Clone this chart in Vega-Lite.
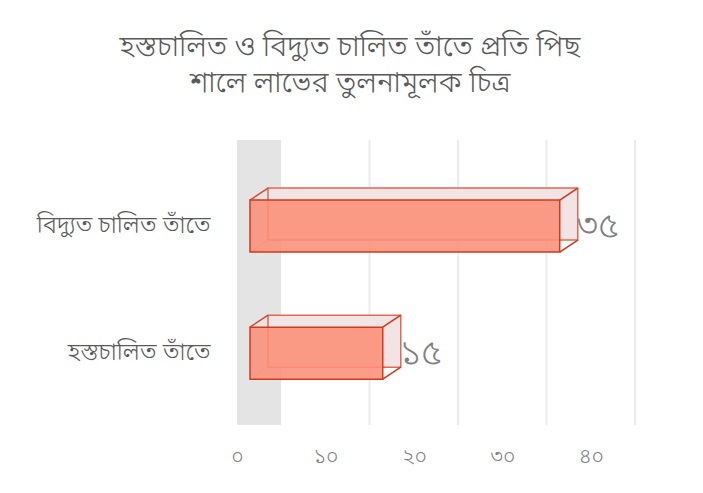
{
  "$schema": "https://vega.github.io/schema/vega-lite/v6.json",
  "autosize": "none",
  "width": 354,
  "height": 285,
  "padding": {"left": 250, "top": 140, "right": 99, "bottom": 68},
  "background": "white",
  "config": {"view": {"stroke": null}, "font": "Noto Sans Bengali, Noto Sans, sans-serif"},
  "title": {
    "text": ["হস্তচালিত ও বিদ্যুত চালিত তাঁতে প্রতি পিছ", "শালে লাভের তুলনামূলক চিত্র"],
    "fontSize": 29, "fontWeight": 300, "color": "#595959",
    "anchor": "middle", "dx": -77, "offset": 20, "lineHeight": 36
  },
  "datasets": {
    "main": [
      {"cat": "বিদ্যুত চালিত তাঁতে", "value": 35, "label": "৩৫"},
      {"cat": "হস্তচালিত তাঁতে", "value": 15, "label": "১৫"}
    ],
    "wall": [{"z": 0}],
    "grid": [{"g": 10}, {"g": 20}, {"g": 30}, {"g": 40}]
  },
  "layer": [
    {
      "data": {"name": "wall"},
      "mark": {"type": "rule", "color": "#e4e4e4", "strokeWidth": 44, "strokeCap": "butt", "xOffset": 9},
      "encoding": {
        "x": {"field": "z", "type": "quantitative", "scale": {"domain": [0, 40]},
          "axis": {"values": [0, 10, 20, 30, 40], "grid": false, "domain": false, "ticks": false, "title": null,
            "labelFlush": false, "labelPadding": 20, "labelOffset": -13, "labelFontSize": 21, "labelFontWeight": 300, "labelColor": "#808080",
            "labelExpr": "datum.value == 0 ? '০' : datum.value == 10 ? '১০' : datum.value == 20 ? '২০' : datum.value == 30 ? '৩০' : '৪০'"}}
      }
    },
    {
      "data": {"name": "grid"},
      "mark": {"type": "rule", "color": "#ebebeb", "strokeWidth": 2, "xOffset": 31},
      "encoding": {"x": {"field": "g", "type": "quantitative"}}
    },
    {
      "data": {"name": "main"},
      "layer": [
        {
          "mark": {"type": "bar", "size": 52, "xOffset": 18, "yOffset": -12, "fill": "#f2e4e4", "stroke": "#dd6a52", "strokeWidth": 1.5},
          "encoding": {
            "x": {"field": "value", "type": "quantitative"},
            "y": {"field": "cat", "type": "nominal", "sort": null,
              "scale": {"paddingInner": 0, "paddingOuter": 0.122, "align": 0.73},
              "axis": {"title": null, "domain": false, "ticks": false, "labelPadding": 40, "labelFontSize": 24, "labelFontWeight": 300, "labelColor": "#595959"}}
          }
        },
        {
          "mark": {"type": "rule", "stroke": "#d8482c", "strokeWidth": 1.5, "yOffset": -26, "y2Offset": -38, "x2Offset": 18},
          "encoding": {
            "x": {"datum": 0}, "x2": {"datum": 0},
            "y": {"field": "cat", "type": "nominal", "sort": null}, "y2": {"field": "cat"}
          }
        },
        {
          "mark": {"type": "rule", "stroke": "#e8a99c", "strokeWidth": 1, "yOffset": 26, "y2Offset": 14, "x2Offset": 18},
          "encoding": {
            "x": {"datum": 0}, "x2": {"datum": 0},
            "y": {"field": "cat", "type": "nominal", "sort": null}, "y2": {"field": "cat"}
          }
        },
        {
          "mark": {"type": "bar", "size": 52, "fill": "#fb8f77", "fillOpacity": 0.88, "stroke": "#cf3a1d", "strokeWidth": 1.5},
          "encoding": {
            "x": {"field": "value", "type": "quantitative"},
            "y": {"field": "cat", "type": "nominal", "sort": null}
          }
        },
        {
          "mark": {"type": "rule", "stroke": "#cf3a1d", "strokeWidth": 1.5, "yOffset": -26, "y2Offset": -38, "x2Offset": 18},
          "encoding": {
            "x": {"field": "value", "type": "quantitative"}, "x2": {"field": "value"},
            "y": {"field": "cat", "type": "nominal", "sort": null}, "y2": {"field": "cat"}
          }
        },
        {
          "mark": {"type": "rule", "stroke": "#cf3a1d", "strokeWidth": 1.5, "yOffset": 26, "y2Offset": 14, "x2Offset": 18},
          "encoding": {
            "x": {"field": "value", "type": "quantitative"}, "x2": {"field": "value"},
            "y": {"field": "cat", "type": "nominal", "sort": null}, "y2": {"field": "cat"}
          }
        },
        {
          "mark": {"type": "text", "align": "left", "baseline": "middle", "dx": 17, "fontSize": 36, "fontWeight": 300, "color": "#7f7f7f"},
          "encoding": {
            "x": {"field": "value", "type": "quantitative"},
            "y": {"field": "cat", "type": "nominal", "sort": null},
            "text": {"field": "label"}
          }
        }
      ]
    }
  ]
}
